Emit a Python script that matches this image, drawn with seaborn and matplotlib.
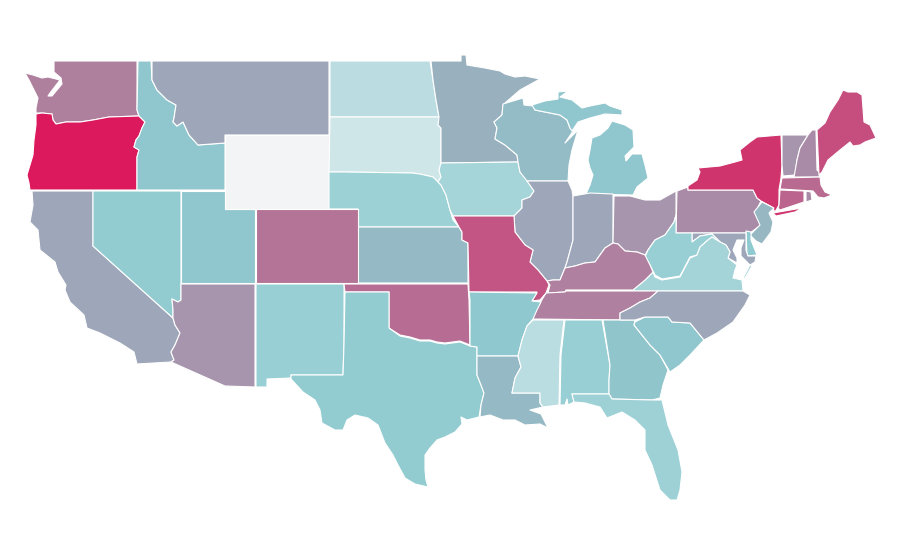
import matplotlib
matplotlib.use("Agg")
import matplotlib.pyplot as plt
from matplotlib.collections import PolyCollection
from matplotlib.colors import TwoSlopeNorm
import seaborn as sns

# state outlines in image pixels
WA = [(54,61),(137,61),(137,110),(139,116),(109,117),(93,120),(80,122),(66,122),(56,124),(53,120),(52,114),(42,113),(36,113),(36,108),(38,98),(34,90),(29,80),(25,73),(33,75),(42,78),(48,77),(60,80),(50,93),(48,96),(52,96),(62,84),(61,78),(54,72)]
OR = [(36,114),(42,113),(52,114),(53,120),(56,124),(66,122),(80,122),(93,120),(109,117),(139,116),(145,122),(142,128),(139,136),(136,140),(134,147),(139,150),(137,157),(137,190),(30,190),(29,183),(27,175),(30,165),(33,155),(34,140),(36,125)]
CA = [(32,191),(93,191),(93,246),(173,318),(175,325),(180,333),(175,345),(171,352),(174,360),(171,362),(137,364),(134,352),(120,343),(100,333),(87,328),(84,315),(70,302),(65,290),(66,285),(58,272),(55,262),(40,250),(38,230),(30,222),(33,205)]
NV = [(93,191),(181,191),(181,300),(178,302),(172,299),(173,310),(173,318),(93,246)]
ID = [(138,61),(151,61),(152,80),(157,90),(167,100),(176,105),(174,118),(173,122),(177,126),(183,122),(189,135),(198,145),(225,143),(225,190),(137,190),(137,157),(139,150),(134,147),(136,140),(139,136),(142,128),(145,122),(139,116),(137,110)]
UT = [(181,191),(225,191),(225,209),(255,209),(255,283),(181,283)]
MT = [(152,61),(329,61),(329,135),(225,135),(225,143),(198,145),(189,135),(183,122),(177,126),(173,122),(174,118),(176,105),(167,100),(157,90),(152,80)]
WY = [(225,135),(329,135),(329,209),(225,209)]
ND = [(330,61),(430,61),(433,80),(436,100),(439,117),(330,117)]
SD = [(330,117),(439,117),(438,125),(441,128),(441,163),(439,170),(441,177),(438,182),(433,177),(420,174),(412,173),(345,172),(329,172)]
NE = [(329,172),(345,172),(412,173),(420,174),(433,177),(441,185),(446,195),(450,210),(453,220),(459,227),(358,227),(358,209),(329,209)]
KS = [(358,227),(459,227),(462,232),(462,240),(468,243),(468,283),(358,283)]
CO = [(256,209),(358,209),(358,283),(256,283)]
NM = [(256,284),(344,284),(344,344),(343,375),(291,375),(291,378),(267,379),(267,387),(256,387)]
AZ = [(181,284),(255,284),(255,387),(225,386),(171,362),(174,360),(171,352),(175,345),(180,333),(175,325),(173,318),(173,310),(172,299),(178,302),(181,300)]
OK = [(344,284),(468,284),(469,300),(470,345),(460,341),(445,343),(437,342),(430,340),(420,340),(410,337),(400,335),(392,330),(389,328),(389,292),(345,292)]
TX = [(345,292),(389,292),(389,328),(400,336),(410,338),(420,341),(430,341),(437,343),(445,344),(460,342),(470,346),(477,347),(477,375),(481,385),(484,393),(481,405),(479,417),(467,420),(461,417),(462,424),(455,432),(445,437),(437,440),(430,448),(425,455),(425,470),(426,480),(428,487),(415,484),(405,478),(398,465),(393,455),(385,443),(378,425),(368,418),(355,415),(347,420),(343,430),(335,430),(322,423),(320,410),(315,400),(303,392),(291,379),(291,375),(343,375),(344,344)]
MN = [(431,61),(461,61),(461,55),(466,55),(467,65),(485,68),(500,71),(505,74),(515,77),(525,76),(540,79),(520,90),(505,103),(503,105),(502,115),(494,122),(497,128),(495,139),(505,145),(517,155),(518,162),(441,163),(441,128),(438,125),(439,117),(436,100),(433,80)]
IA = [(441,163),(518,162),(520,172),(526,179),(534,191),(530,197),(522,200),(522,208),(514,216),(453,216),(450,210),(446,195),(441,185),(438,182),(441,177),(439,170)]
WI = [(503,104),(523,98),(524,105),(533,106),(535,110),(560,115),(567,120),(570,128),(573,131),(565,143),(578,130),(572,150),(569,165),(568,181),(527,181),(520,172),(518,162),(517,155),(505,145),(495,139),(497,128),(494,122),(502,115)]
MI_UPPER = [(532,105),(545,101),(558,99),(558,92),(568,91),(560,97),(572,100),(582,108),(590,106),(605,103),(610,106),(622,110),(622,115),(605,114),(590,118),(578,122),(572,131),(570,128),(567,120),(560,115),(535,110)]
MI_LOWER = [(586,194),(633,195),(637,187),(648,178),(645,165),(642,154),(632,154),(626,161),(625,156),(634,147),(633,130),(625,125),(612,121),(608,128),(600,135),(592,138),(590,150),(588,160),(590,168),(593,175),(590,185)]
IL = [(527,181),(568,181),(572,190),(573,196),(573,240),(567,262),(565,268),(560,280),(553,280),(547,281),(538,270),(530,262),(533,250),(525,245),(515,232),(514,216),(522,208),(522,200),(530,197),(534,191)]
IN = [(573,196),(590,193),(613,194),(613,243),(605,248),(595,262),(585,263),(575,266),(565,268),(567,262),(573,240)]
OH = [(614,196),(630,196),(645,200),(660,200),(676,191),(687,187),(676,192),(676,215),(674,222),(665,235),(655,240),(648,250),(645,255),(637,252),(625,251),(618,244),(613,243)]
PA = [(677,191),(688,187),(688,190),(753,190),(757,198),(761,201),(755,213),(761,225),(750,233),(676,233)]
NY = [(688,186),(697,180),(700,172),(698,168),(720,166),(735,162),(742,160),(740,150),(750,142),(757,137),(781,135),(782,165),(781,178),(779,190),(779,205),(775,212),(772,207),(761,201),(757,198),(753,190),(688,190)]
LONG_ISLAND = [(773,213),(802,208),(795,212),(776,216)]
NJ = [(762,202),(774,208),(769,213),(773,222),(771,232),(762,244),(756,241),(750,235),(760,225),(754,212)]
DE = [(746,231),(751,232),(751,240),(757,255),(747,256)]
MD = [(692,233),(746,233),(746,250),(748,256),(756,256),(755,262),(750,265),(741,256),(741,248),(744,240),(737,240),(733,250),(737,258),(737,263),(728,258),(730,252),(726,245),(720,242),(712,234),(700,236),(692,242)]
WV = [(676,233),(692,233),(692,242),(700,236),(712,234),(720,242),(712,237),(708,240),(700,247),(697,255),(690,257),(680,276),(662,279),(655,275),(650,265),(645,257),(648,250),(655,240),(665,235),(674,222),(676,215)]
VA = [(633,290),(645,280),(653,272),(655,277),(662,280),(680,277),(690,258),(697,255),(700,247),(708,240),(712,237),(720,242),(726,245),(730,252),(728,258),(737,265),(735,270),(733,278),(742,280),(743,291),(633,291)]
VA_SHORE = [(750,265),(752,266),(745,278),(743,278)]
KY = [(565,268),(575,266),(585,263),(595,262),(605,248),(613,243),(618,244),(625,251),(637,252),(645,255),(650,265),(653,272),(645,280),(633,290),(566,290),(565,292),(548,293),(550,285),(547,281),(553,280),(560,280)]
TN = [(566,291),(658,291),(650,298),(640,302),(630,308),(620,313),(620,320),(533,319),(535,310),(540,303),(546,293),(565,292)]
MO = [(453,216),(514,216),(515,232),(525,245),(533,250),(530,262),(538,270),(547,281),(549,285),(546,293),(540,300),(532,301),(537,292),(469,292),(468,243),(462,240),(462,232),(459,227)]
AR = [(469,292),(537,293),(532,301),(541,302),(537,310),(533,319),(527,326),(522,340),(518,356),(477,356),(477,347),(470,346),(470,300)]
LA = [(477,356),(518,356),(521,367),(515,378),(512,393),(540,393),(540,403),(543,407),(530,410),(541,414),(548,428),(540,424),(525,425),(515,420),(503,420),(490,415),(480,417),(481,405),(484,393),(481,385),(477,375)]
MS = [(533,320),(564,320),(560,355),(559,405),(543,407),(540,403),(540,393),(512,393),(515,378),(521,367),(518,356),(522,340),(527,326)]
AL = [(565,320),(602,320),(610,365),(609,380),(609,394),(572,394),(574,402),(568,405),(567,399),(565,405),(560,405),(561,355)]
GA = [(603,320),(635,320),(634,325),(650,345),(660,355),(668,370),(663,385),(660,398),(652,400),(612,399),(609,394),(609,380),(610,365)]
SC = [(635,322),(645,317),(668,317),(672,322),(690,323),(704,340),(690,355),(680,365),(670,372),(660,355),(650,345),(634,325)]
NC = [(658,291),(743,291),(750,295),(745,305),(733,322),(717,333),(704,340),(690,323),(672,322),(668,317),(645,317),(635,320),(620,320),(620,313),(630,308),(640,302),(650,298)]
FL = [(572,394),(609,394),(612,399),(652,400),(662,400),(668,425),(678,450),(682,472),(680,490),(677,500),(670,500),(660,490),(652,465),(645,450),(645,430),(635,420),(622,412),(607,418),(600,407),(585,403),(574,402)]
VT = [(782,135),(808,135),(800,148),(797,160),(795,175),(783,176),(782,165)]
NH = [(812,130),(816,130),(817,170),(820,173),(819,177),(794,177),(797,160),(800,148),(808,135)]
ME = [(817,130),(825,123),(830,112),(838,100),(843,90),(848,92),(857,92),(862,95),(864,122),(870,125),(876,138),(865,142),(860,145),(853,146),(850,142),(840,150),(828,160),(822,172),(819,175)]
MA = [(782,178),(820,177),(821,185),(825,192),(832,195),(824,198),(818,197),(813,191),(780,189)]
CT = [(780,190),(804,191),(804,202),(780,210),(778,208),(779,205)]
RI = [(806,191),(811,192),(812,200),(806,202)]

outlines = [WA, OR, CA, NV, ID, UT, MT, WY, ND, SD, NE, KS, CO, NM, AZ, OK, TX, MN, IA, WI,
            MI_UPPER, MI_LOWER, IL, IN, OH, PA, NY, LONG_ISLAND, NJ, DE, MD, WV, VA, VA_SHORE,
            KY, TN, MO, AR, LA, MS, AL, GA, SC, NC, FL, VT, NH, ME, MA, CT, RI]
# shading value of each outline
values = [60, 100, 44, 29, 32, 32, 44, 0, 16.5, 10.5, 26, 37, 64, 27, 51, 67, 29, 40, 23, 36,
          32, 32, 44, 44, 51, 55, 89.5, 89.5, 38, 30, 44, 27, 23.4, 23.4,
          59, 59, 76, 31, 37, 17, 27, 32.5, 32, 44, 25.5, 51, 55, 79, 68, 70, 55]

scale_colors = ["#f2f4f6", "#8ecbd0", "#dc195c"]

sns.set_theme(style="white")
cmap = sns.blend_palette(scale_colors, as_cmap=True)
norm = TwoSlopeNorm(vmin=0, vcenter=30, vmax=100)

fig, ax = plt.subplots(figsize=(9, 5.6), dpi=100)
fig.subplots_adjust(0, 0, 1, 1)
states = PolyCollection(outlines, array=values, cmap=cmap, norm=norm,
                        edgecolors="white", linewidths=0.8)
ax.add_collection(states)
ax.set_xlim(0, 900)
ax.set_ylim(560, 0)
ax.set_axis_off()
fig.savefig("out.png", dpi=100)
plt.close(fig)
